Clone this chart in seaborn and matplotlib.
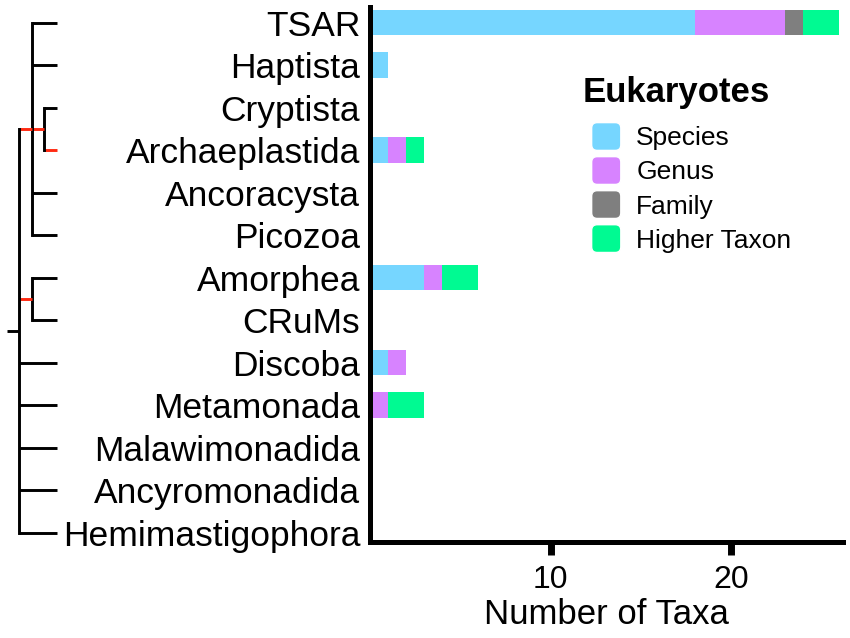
import matplotlib
matplotlib.use('Agg')
import matplotlib.pyplot as plt
import seaborn as sns
import pandas as pd
from matplotlib.patches import Patch, FancyBboxPatch
from matplotlib.legend_handler import HandlerPatch

# Clades, top to bottom
clades = ['TSAR', 'Haptista', 'Cryptista', 'Archaeplastida', 'Ancoracysta',
          'Picozoa', 'Amorphea', 'CRuMs', 'Discoba', 'Metamonada',
          'Malawimonadida', 'Ancyromonadida', 'Hemimastigophora']

# Number of taxa per rank
species = [18, 1, 0, 1, 0, 0, 3, 0, 1, 0, 0, 0, 0]
genus = [5, 0, 0, 1, 0, 0, 1, 0, 1, 1, 0, 0, 0]
family = [1, 0, 0, 0, 0, 0, 0, 0, 0, 0, 0, 0, 0]
higher = [2, 0, 0, 1, 0, 0, 2, 0, 0, 2, 0, 0, 0]

ranks = ['Species', 'Genus', 'Family', 'Higher Taxon']
rank_colors = ['#76D6FF', '#D783FF', '#7F7F7F', '#00FA92']

# Cladogram of the clades (nested lists)
tree = [['TSAR', 'Haptista', ['Cryptista', 'Archaeplastida'], 'Ancoracysta', 'Picozoa'],
        ['Amorphea', 'CRuMs'],
        'Discoba', 'Metamonada', 'Malawimonadida', 'Ancyromonadida', 'Hemimastigophora']
red_branches = [{'TSAR', 'Haptista', 'Cryptista', 'Archaeplastida', 'Ancoracysta', 'Picozoa'},
                {'Cryptista', 'Archaeplastida'},
                {'Archaeplastida'},
                {'Amorphea', 'CRuMs'}]

sns.set_theme(style='white')
plt.rcParams['font.family'] = ['Liberation Sans', 'DejaVu Sans']
plt.rcParams['text.color'] = 'black'
plt.rcParams['axes.labelcolor'] = 'black'
plt.rcParams['xtick.color'] = 'black'
plt.rcParams['ytick.color'] = 'black'

df = pd.DataFrame({'Clade': clades, 'Species': species, 'Genus': genus,
                   'Family': family, 'Higher Taxon': higher})
# cumulative sums so the bars can be stacked by overlaying
cum = df[ranks].cumsum(axis=1)
cum['Clade'] = df['Clade']

fig = plt.figure(figsize=(8.5, 6.38), dpi=100)
ax = fig.add_axes([370 / 850, 1 - 542 / 638, 473 / 850, 535 / 638])

for rank, color in reversed(list(zip(ranks, rank_colors))):
    sns.barplot(data=cum, x=rank, y='Clade', orient='h', color=color,
                width=0.6, saturation=1, linewidth=0, errorbar=None, ax=ax)

ax.set_xlim(0, 26.2)
ax.set_ylim(12.22, -0.365)
ax.set_xticks([10, 20])
ax.set_ylabel('')
ax.set_xlabel('Number of Taxa', fontsize=25, labelpad=2)
for side in ['top', 'right']:
    ax.spines[side].set_visible(False)
for side in ['left', 'bottom']:
    ax.spines[side].set_linewidth(3.6)
    ax.spines[side].set_color('black')
ax.tick_params(axis='x', length=9.5, width=5, labelsize=23, pad=7, bottom=True)
ax.tick_params(axis='y', length=0, labelsize=25.5, pad=7)


# Legend with rounded square swatches
def rounded_patch(legend, orig_handle, xdescent, ydescent, width, height, fontsize):
    return FancyBboxPatch((-xdescent + width - 21, -ydescent + (height - 20) / 2), 21, 20,
                          boxstyle='round,pad=0,rounding_size=4')


handles = [Patch(facecolor=c, label=r) for r, c in zip(ranks, rank_colors)]
leg = ax.legend(handles=handles, title='Eukaryotes', frameon=False, loc='upper left',
                bbox_to_anchor=(572 / 850, 1 - 65 / 638), bbox_transform=fig.transFigure,
                borderaxespad=0, fontsize=19, title_fontproperties={'weight': 'bold', 'size': 25},
                alignment='left', handlelength=1.45, handleheight=1.1,
                handletextpad=0.58, labelspacing=0.28,
                handler_map={Patch: HandlerPatch(patch_func=rounded_patch)})
leg._legend_box.sep = 11  # extra room under the title

# Cladogram on the left
tree_ax = fig.add_axes([0, 1 - 542 / 638, 60 / 850, 535 / 638])
tree_ax.set_xlim(-1.56, 3.24)
tree_ax.set_ylim(12.22, -0.365)
tree_ax.axis('off')
tip_depth = 3


def leaves(node):
    if isinstance(node, str):
        return [node]
    return sum((leaves(c) for c in node), [])


def draw(node, depth, parent_x):
    color = '#FF2A12' if set(leaves(node)) in red_branches else 'black'
    if isinstance(node, str):
        y = clades.index(node)
        x = tip_depth
    else:
        ys = [draw(child, depth + 1, depth) for child in node]
        y = (min(ys) + max(ys)) / 2
        x = depth
        tree_ax.plot([x, x], [min(ys), max(ys)], color='black', lw=2.1,
                     solid_capstyle='projecting')
    tree_ax.plot([parent_x, x], [y, y], color=color, lw=2.1, solid_capstyle='butt')
    return y


draw(tree, 0, -1)

fig.savefig('out.png', dpi=100)
